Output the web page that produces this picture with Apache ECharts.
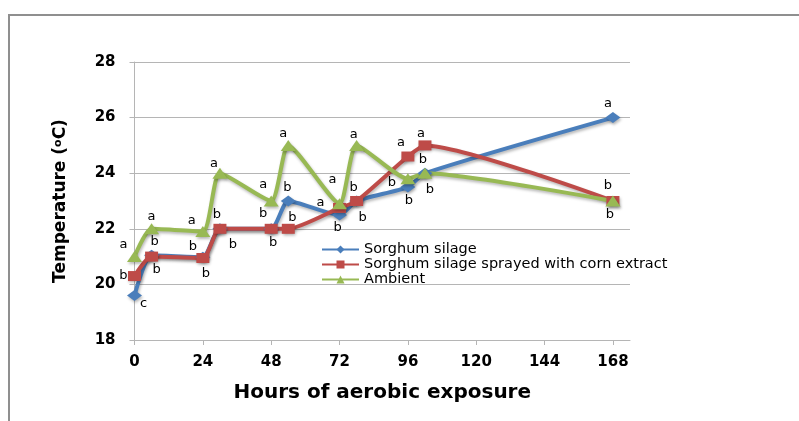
<!DOCTYPE html>
<html>
<head>
<meta charset="utf-8">
<script src="https://cdn.jsdelivr.net/npm/echarts@6/dist/echarts.min.js"></script>
<style>
  html, body { margin: 0; padding: 0; background: #ffffff; }
  #chart { width: 799px; height: 421px; }
</style>
</head>
<body>
<div id="chart"></div>
<script>
// ---- data ----
const hours = [0, 6, 24, 30, 48, 54, 72, 78, 96, 102, 168];
const sorghumSilage = [19.6, 21.05, 20.98, 22.0, 22.0, 23.0, 22.5, 23.0, 23.5, 24.0, 26.0];
const sprayedSilage = [20.3, 21.0, 20.95, 22.0, 22.0, 22.0, 22.75, 23.0, 24.6, 25.0, 23.0];
const ambient = [21.0, 22.0, 21.9, 24.0, 23.0, 25.0, 22.9, 25.0, 23.8, 24.0, 23.0];

const sorghumLetters = ['c', 'b', 'b', 'b', 'b', 'b', 'b', 'b', 'b', 'b', 'a'];
const sprayedLetters = ['b', 'b', 'b', 'b', 'b', 'b', 'a', 'b', 'a', 'a', 'b'];
const ambientLetters = ['a', 'a', 'a', 'a', 'a', 'a', 'a', 'a', 'b', 'b', 'b'];

const seriesNames = ['Sorghum silage', 'Sorghum silage sprayed with corn extract', 'Ambient'];
const xTickValues = [0, 24, 48, 72, 96, 120, 144, 168];
const yTickValues = [18, 20, 22, 24, 26, 28];

// ---- layout of the letter labels (offsets from each marker, px) ----
const sorghumLabelOffset = [[9, 8], [5, 14], [3, 16], [13, 16], [2, 14], [-1, -13], [-2, 13], [6, 17], [1, 14], [5, 16], [-5, -14]];
const sprayedLabelOffset = [[-11, 0], [3, -15], [-10, -11], [-3, -14], [-8, -15], [4, -11], [-19, -5], [-3, -13], [-7, -14], [-4, -12], [-5, -15]];
const ambientLabelOffset = [[-11, -12], [0, -12], [-11, -11], [-6, -10], [-8, -16], [-5, -12], [-7, -24], [-3, -11], [-16, 4], [-2, -14], [-3, 14]];

function buildData(values, letters, offsets) {
  return hours.map((h, i) => ({
    value: [h, values[i]],
    label: {
      show: true,
      position: 'inside',
      offset: offsets[i],
      formatter: letters[i]
    }
  }));
}

const letterStyle = {
  color: '#000',
  fontFamily: 'DejaVu Sans',
  fontSize: 13
};

const shadow = {
  shadowColor: 'rgba(0,0,0,0.28)',
  shadowBlur: 3,
  shadowOffsetX: 1,
  shadowOffsetY: 2
};

function makeSeries(name, values, letters, offsets, color, symbol, size) {
  return {
    name: name,
    type: 'line',
    smooth: 0.2,
    symbol: symbol,
    symbolSize: size,
    data: buildData(values, letters, offsets),
    lineStyle: Object.assign({ color: color, width: 4 }, shadow),
    itemStyle: Object.assign({ color: color }, shadow),
    label: letterStyle,
    emphasis: { disabled: true },
    animation: false
  };
}

const chart = echarts.init(document.getElementById('chart'), null, { renderer: 'canvas' });

chart.setOption({
  backgroundColor: '#ffffff',
  animation: false,
  graphic: [{
    type: 'rect',
    shape: { x: 9, y: 15, width: 1000, height: 1000 },
    style: { fill: 'none', stroke: '#8f8f8f', lineWidth: 2 },
    silent: true,
    z: -10
  }],
  grid: { left: 134.5, right: 169, top: 62, bottom: 81, containLabel: false },
  legend: {
    orient: 'vertical',
    left: 321,
    top: 242,
    padding: 0,
    itemWidth: 37,
    itemHeight: 10,
    itemGap: 0,
    textStyle: { color: '#000', fontFamily: 'DejaVu Sans', fontSize: 14.5, lineHeight: 15 },
    data: seriesNames
  },
  xAxis: {
    type: 'value',
    min: 0,
    max: 174,
    interval: 24,
    name: 'Hours of aerobic exposure',
    nameLocation: 'middle',
    nameGap: 43,
    nameTextStyle: { color: '#000', fontFamily: 'DejaVu Sans', fontWeight: 'bold', fontSize: 20 },
    axisLine: { show: true, lineStyle: { color: '#b5b5b5', width: 1 } },
    axisTick: { show: true, length: 5, lineStyle: { color: '#b5b5b5' }, customValues: xTickValues },
    axisLabel: { color: '#000', fontFamily: 'DejaVu Sans', fontWeight: 'bold', fontSize: 15, margin: 15, customValues: xTickValues },
    splitLine: { show: false }
  },
  yAxis: {
    type: 'value',
    min: 18,
    max: 28,
    interval: 2,
    name: 'Temperature ({sup|o}C)',
    nameLocation: 'middle',
    nameRotate: 90,
    nameGap: 65,
    nameTextStyle: {
      color: '#000', fontFamily: 'DejaVu Sans', fontWeight: 'bold', fontSize: 17,
      rich: {
        sup: { fontFamily: 'DejaVu Sans', fontWeight: 'bold', fontSize: 11, verticalAlign: 'top', lineHeight: 14, padding: [0, 0, 6, 0] }
      }
    },
    axisLine: { show: true, lineStyle: { color: '#b5b5b5', width: 1 } },
    axisTick: { show: true, length: 5, lineStyle: { color: '#b5b5b5' } },
    axisLabel: { color: '#000', fontFamily: 'DejaVu Sans', fontWeight: 'bold', fontSize: 15, margin: 19, customValues: yTickValues },
    splitLine: { show: true, lineStyle: { color: '#b5b5b5', width: 1 } }
  },
  series: [
    makeSeries(seriesNames[0], sorghumSilage, sorghumLetters, sorghumLabelOffset, '#4A7EBB', 'diamond', [15, 11]),
    makeSeries(seriesNames[1], sprayedSilage, sprayedLetters, sprayedLabelOffset, '#BE4B48', 'rect', [13, 10]),
    makeSeries(seriesNames[2], ambient, ambientLetters, ambientLabelOffset, '#98B954', 'triangle', [15, 11])
  ]
});
</script>
</body>
</html>
